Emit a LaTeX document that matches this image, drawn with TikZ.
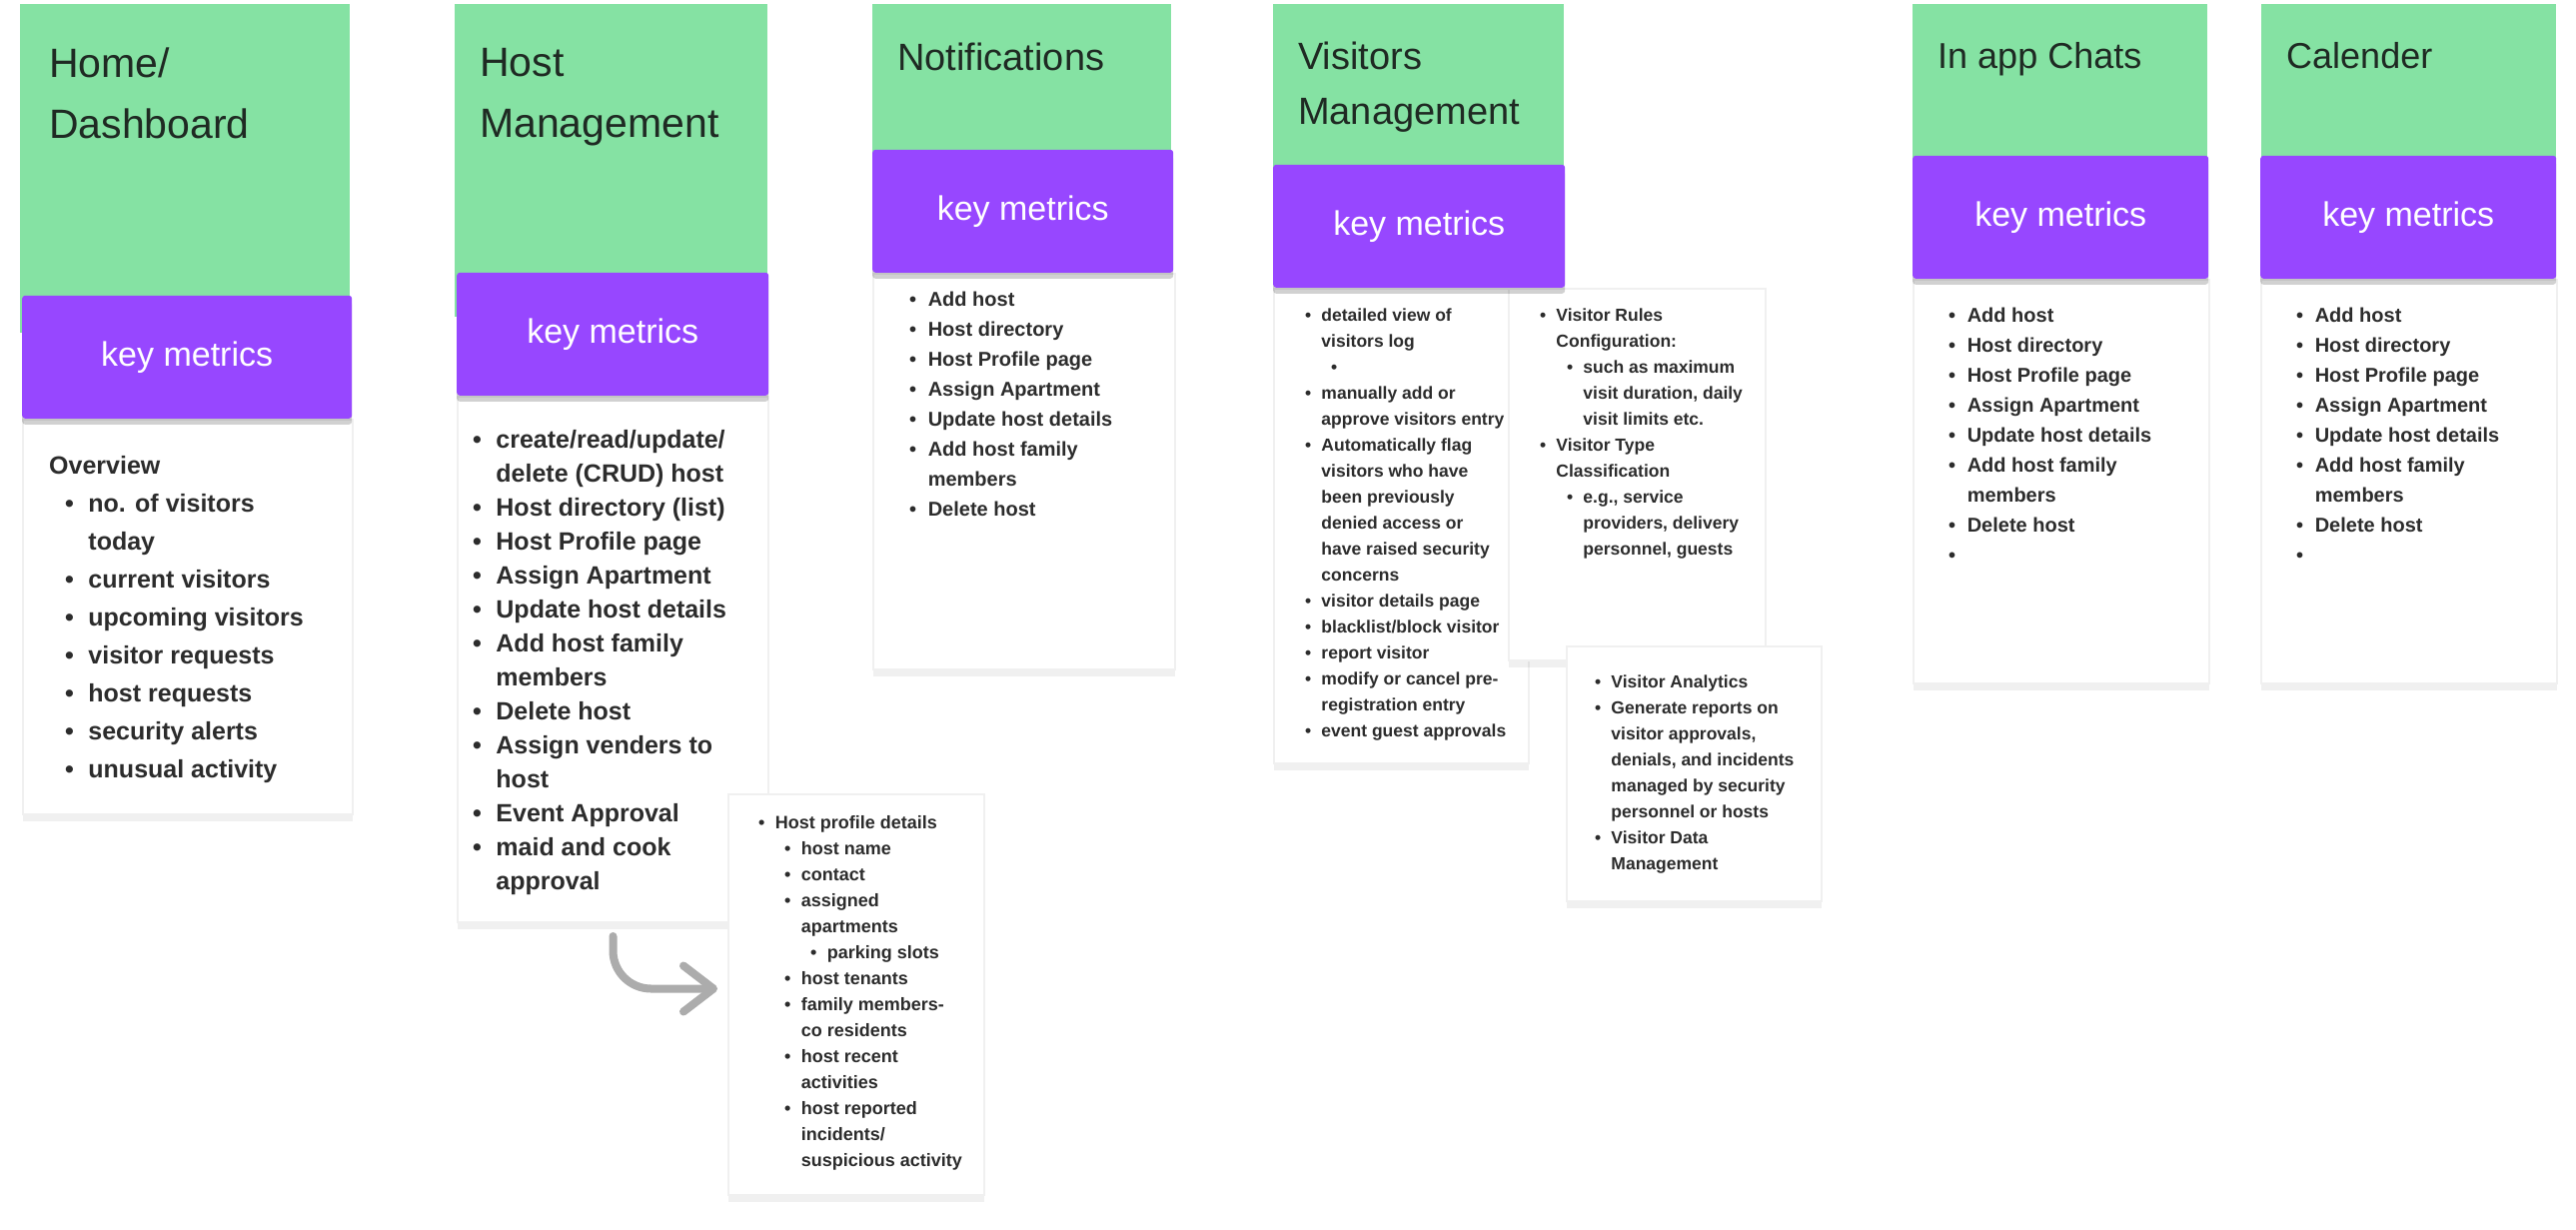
\documentclass[tikz,border=0pt]{standalone}
\usepackage{fontspec}
\setmainfont{Liberation Sans}
\usetikzlibrary{arrows.meta,positioning,shadows}
\definecolor{sticky}{HTML}{85E2A3}
\definecolor{metric}{HTML}{9747FF}
\definecolor{ink}{HTML}{2C2C2C}
\definecolor{titleink}{HTML}{1F2A23}
% bullet line and continuation line
\newcommand{\bitem}[2][0pt]{\hspace*{#1}\makebox[0.93em][l]{\textbullet}#2\strut}
\newcommand{\bcont}[2][0pt]{\hspace*{#1}\hspace*{0.93em}#2\strut}

\begin{document}
\begin{tikzpicture}[x=1pt, y=-1pt,
  sticky/.style={fill=sticky, anchor=north west, inner sep=0pt},
  card/.style={fill=white, anchor=north west, inner sep=0pt, draw=black!6, line width=2pt,
               drop shadow={shadow xshift=0pt, shadow yshift=-7pt, opacity=0.06, fill=black}},
  metric/.style={fill=metric, rounded corners=3pt, inner sep=0pt, text=white,
                 minimum height=123pt, font=\fontsize{34}{40}\selectfont,
                 drop shadow={shadow xshift=0pt, shadow yshift=-6pt, opacity=0.18, fill=black}},
  heading/.style={anchor=north west, align=left, inner sep=0pt, text=titleink},
  items/.style={anchor=north west, align=left, inner sep=0pt, text=ink},
  flow/.style={draw=gray!65, line width=8pt, line cap=round, rounded corners=38pt,
               -{Straight Barb[length=30pt, width=46pt, round]}},
]
  \path[use as bounding box, fill=white] (0,0) rectangle (2578,1231);

  % sticky headers
  \node[sticky, minimum width=330pt, minimum height=329pt] (home) at (20,4) {};
  \node[sticky, minimum width=313pt, minimum height=313pt] (host) at (455,4) {};
  \node[sticky, minimum width=299pt, minimum height=186pt] (notif) at (873,4) {};
  \node[sticky, minimum width=291pt, minimum height=196pt] (visit) at (1274,4) {};
  \node[sticky, minimum width=295pt, minimum height=186pt] (chats) at (1914,4) {};
  \node[sticky, minimum width=295pt, minimum height=186pt] (cal) at (2263,4) {};

  % white cards
  \node[card, minimum width=330pt, minimum height=395pt] (homecard) at (22,419) {};
  \node[card, minimum width=311pt, minimum height=526pt] (hostcard) at (457,396) {};
  \node[card, minimum width=256pt, minimum height=401pt] (profile) at (728,794) {};
  \node[card, minimum width=302pt, minimum height=396pt] (notifcard) at (873,273) {};
  \node[card, minimum width=255pt, minimum height=475pt] (viscard) at (1274,288) {};
  \node[card, minimum width=257pt, minimum height=372pt] (rules) at (1509,288) {};
  \node[card, minimum width=255pt, minimum height=255pt] (analytics) at (1567,646) {};
  \node[card, minimum width=296pt, minimum height=404pt] (chatscard) at (1914,279) {};
  \node[card, minimum width=296pt, minimum height=404pt] (calcard) at (2262,279) {};

  % key metrics bars
  \node[metric, minimum width=330pt, above right=0pt and 0pt of homecard.north west] (homekm) {key metrics};
  \node[metric, minimum width=312pt, above right=0pt and 0pt of hostcard.north west] (hostkm) {key metrics};
  \node[metric, minimum width=301pt, above right=0pt and 0pt of notifcard.north west] (notifkm) {key metrics};
  \node[metric, minimum width=292pt, above right=0pt and 0pt of viscard.north west] (viskm) {key metrics};
  \node[metric, minimum width=296pt, above right=0pt and 0pt of chatscard.north west] (chatskm) {key metrics};
  \node[metric, minimum width=296pt, above right=0pt and 0pt of calcard.north west] (calkm) {key metrics};

  % titles
  \node[heading, font=\fontsize{41}{61}\selectfont] (hometitle) at (49,35) {\strut Home/\\\strut Dashboard};
  \node[heading, font=\fontsize{41}{61}\selectfont] (hosttitle) at (480,34) {\strut Host\\\strut Management};
  \node[heading, font=\fontsize{38}{56}\selectfont] (notiftitle) at (898,31) {\strut Notifications};
  \node[heading, font=\fontsize{38}{55}\selectfont] (vistitle) at (1299,31) {\strut Visitors\\\strut Management};
  \node[heading, font=\fontsize{36}{54}\selectfont] (chatstitle) at (1939,30) {\strut In app Chats};
  \node[heading, font=\fontsize{36}{54}\selectfont] (caltitle) at (2288,30) {\strut Calender};

  % lists
  \node[items, font=\fontsize{25}{38}\selectfont\bfseries] (homelist) at (49,448) {%
    \strut Overview\\
    \bitem[16pt]{no. of visitors}\\ \bcont[16pt]{today}\\
    \bitem[16pt]{current visitors}\\ \bitem[16pt]{upcoming visitors}\\
    \bitem[16pt]{visitor requests}\\ \bitem[16pt]{host requests}\\
    \bitem[16pt]{security alerts}\\ \bitem[16pt]{unusual activity}};

  \node[items, font=\fontsize{25}{34}\selectfont\bfseries] (hostlist) at (473,424) {%
    \bitem{create/read/update/}\\ \bcont{delete (CRUD) host}\\
    \bitem{Host directory (list)}\\ \bitem{Host Profile page}\\
    \bitem{Assign Apartment}\\ \bitem{Update host details}\\
    \bitem{Add host family}\\ \bcont{members}\\ \bitem{Delete host}\\
    \bitem{Assign venders to}\\ \bcont{host}\\ \bitem{Event Approval}\\
    \bitem{maid and cook}\\ \bcont{approval}};

  \node[items, font=\fontsize{18}{26}\selectfont\bfseries] (profilelist) at (759,811) {%
    \bitem{Host profile details}\\ \bitem[26pt]{host name}\\ \bitem[26pt]{contact}\\
    \bitem[26pt]{assigned}\\ \bcont[26pt]{apartments}\\ \bitem[52pt]{parking slots}\\
    \bitem[26pt]{host tenants}\\ \bitem[26pt]{family members-}\\ \bcont[26pt]{co residents}\\
    \bitem[26pt]{host recent}\\ \bcont[26pt]{activities}\\ \bitem[26pt]{host reported}\\
    \bcont[26pt]{incidents/}\\ \bcont[26pt]{suspicious activity}};

  \node[items, font=\fontsize{20}{30}\selectfont\bfseries] (notiflist) at (910,285) {%
    \bitem{Add host}\\ \bitem{Host directory}\\ \bitem{Host Profile page}\\
    \bitem{Assign Apartment}\\ \bitem{Update host details}\\
    \bitem{Add host family}\\ \bcont{members}\\ \bitem{Delete host}};

  \node[items, font=\fontsize{17.5}{26}\selectfont\bfseries] (vislist) at (1306,303) {%
    \bitem{detailed view of}\\ \bcont{visitors log}\\ \bitem[26pt]{}\\
    \bitem{manually add or}\\ \bcont{approve visitors entry}\\
    \bitem{Automatically flag}\\ \bcont{visitors who have}\\ \bcont{been previously}\\
    \bcont{denied access or}\\ \bcont{have raised security}\\ \bcont{concerns}\\
    \bitem{visitor details page}\\ \bitem{blacklist/block visitor}\\ \bitem{report visitor}\\
    \bitem{modify or cancel pre-}\\ \bcont{registration entry}\\ \bitem{event guest approvals}};

  \node[items, font=\fontsize{17.5}{26}\selectfont\bfseries] (ruleslist) at (1541,303) {%
    \bitem{Visitor Rules}\\ \bcont{Configuration:}\\
    \bitem[27pt]{such as maximum}\\ \bcont[27pt]{visit duration, daily}\\ \bcont[27pt]{visit limits etc.}\\
    \bitem{Visitor Type}\\ \bcont{Classification}\\
    \bitem[27pt]{e.g., service}\\ \bcont[27pt]{providers, delivery}\\ \bcont[27pt]{personnel, guests}};

  \node[items, font=\fontsize{17.5}{26}\selectfont\bfseries] (analyticslist) at (1596,670) {%
    \bitem{Visitor Analytics}\\ \bitem{Generate reports on}\\ \bcont{visitor approvals,}\\
    \bcont{denials, and incidents}\\ \bcont{managed by security}\\ \bcont{personnel or hosts}\\
    \bitem{Visitor Data}\\ \bcont{Management}};

  \node[items, font=\fontsize{20}{30}\selectfont\bfseries] (chatslist) at (1950,301) {%
    \bitem{Add host}\\ \bitem{Host directory}\\ \bitem{Host Profile page}\\
    \bitem{Assign Apartment}\\ \bitem{Update host details}\\
    \bitem{Add host family}\\ \bcont{members}\\ \bitem{Delete host}\\ \bitem{}};

  \node[items, font=\fontsize{20}{30}\selectfont\bfseries] (callist) at (2298,301) {%
    \bitem{Add host}\\ \bitem{Host directory}\\ \bitem{Host Profile page}\\
    \bitem{Assign Apartment}\\ \bitem{Update host details}\\
    \bitem{Add host family}\\ \bcont{members}\\ \bitem{Delete host}\\ \bitem{}};

  \draw[flow] ([yshift=-13pt]hostcard.south) |- ([xshift=-10pt, yshift=6pt]profile.west);
\end{tikzpicture}
\end{document}
